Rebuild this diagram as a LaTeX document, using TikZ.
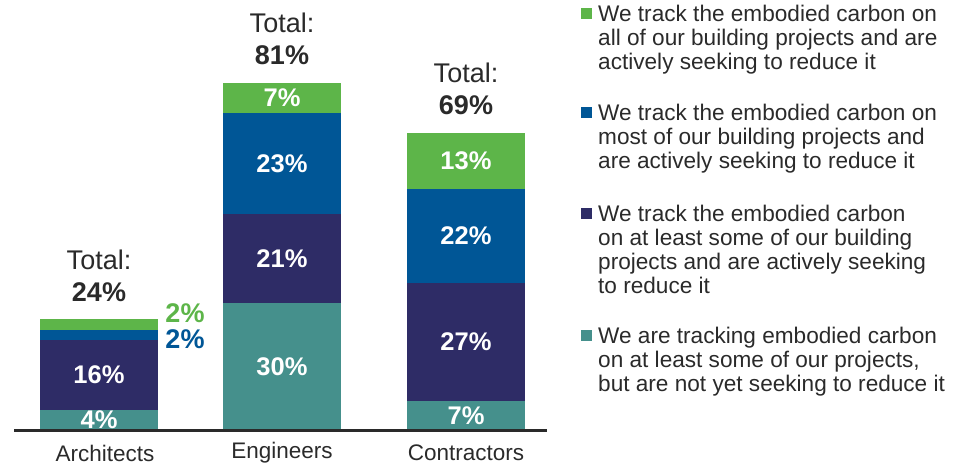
\documentclass[tikz,border=0pt]{standalone}
\usepackage{fontspec}
\setmainfont{Liberation Sans}
\definecolor{cgreen}{HTML}{5DB549}
\definecolor{cblue}{HTML}{005696}
\definecolor{cnavy}{HTML}{2E2C66}
\definecolor{cteal}{HTML}{45908C}
\definecolor{ctext}{HTML}{2A2A2A}
\begin{document}
\begin{tikzpicture}[x=1pt,y=-1pt,
  seg/.style={inner sep=0pt, outer sep=0pt, minimum width=118pt, anchor=north west, text=white, font=\bfseries\fontsize{25.5}{25.5}\selectfont},
  total/.style={text=ctext, align=center, font=\fontsize{27}{32}\selectfont, inner sep=0pt},
  axlabel/.style={text=ctext, font=\fontsize{22.5}{22.5}\selectfont, inner sep=0pt},
  legsq/.style={inner sep=0pt, minimum size=11pt, anchor=north west},
  legtxt/.style={text=ctext, align=left, anchor=north west, inner sep=0pt, font=\fontsize{22.6}{24}\selectfont},
  side/.style={font=\bfseries\fontsize{27}{27}\selectfont, inner sep=0pt}]
\useasboundingbox (0,0) rectangle (968,466);
% Architects
\node[seg, fill=cgreen, minimum height=11pt] (ag) at (40,319) {};
\node[seg, fill=cblue, minimum height=10pt] (ab) at (40,330) {};
\node[seg, fill=cnavy, minimum height=70pt] (an) at (40,340) {16\%};
\node[seg, fill=cteal, minimum height=20pt] (at) at (40,410) {4\%};
% Engineers
\node[seg, fill=cgreen, minimum height=30pt] (eg) at (223,83) {7\%};
\node[seg, fill=cblue, minimum height=101pt] (eb) at (223,113) {23\%};
\node[seg, fill=cnavy, minimum height=89pt] (en) at (223,214) {21\%};
\node[seg, fill=cteal, minimum height=127pt] (et) at (223,303) {30\%};
% Contractors
\node[seg, fill=cgreen, minimum height=56pt] (cg) at (407,133) {13\%};
\node[seg, fill=cblue, minimum height=94pt] (cb) at (407,189) {22\%};
\node[seg, fill=cnavy, minimum height=118pt] (cn) at (407,283) {27\%};
\node[seg, fill=cteal, minimum height=29pt] (ct) at (407,401) {7\%};
% axis
\coordinate (axL) at (14,430.5);
\coordinate (axR) at (547,430.5);
\draw[line width=2.5pt, draw=ctext] (axL) -- (axR);
% totals
\node[total] (tA) at (99,276) {Total:\\\textbf{24\%}};
\node[total] (tE) at (282,39) {Total:\\\textbf{81\%}};
\node[total] (tC) at (466,89) {Total:\\\textbf{69\%}};
% side labels
\node[side, text=cgreen] (sg) at (185,313) {2\%};
\node[side, text=cblue] (sb) at (185,339) {2\%};
% axis labels
\node[axlabel] (lA) at (105,453) {Architects};
\node[axlabel] (lE) at (282,453) {Engineers};
\node[axlabel] (lC) at (466,453) {Contractors};
% legend
\node[legsq, fill=cgreen] (q1) at (581,8) {};
\node[legtxt] (l1) at (598,5) {We track the embodied carbon on\\all of our building projects and are\\actively seeking to reduce it};
\node[legsq, fill=cblue] (q2) at (581,107) {};
\node[legtxt] (l2) at (598,104) {We track the embodied carbon on\\most of our building projects and\\are actively seeking to reduce it};
\node[legsq, fill=cnavy] (q3) at (581,208) {};
\node[legtxt] (l3) at (598,205) {We track the embodied carbon\\on at least some of our building\\projects and are actively seeking\\to reduce it};
\node[legsq, fill=cteal] (q4) at (581,330) {};
\node[legtxt] (l4) at (598,327) {We are tracking embodied carbon\\on at least some of our projects,\\but are not yet seeking to reduce it};
\end{tikzpicture}
\end{document}
